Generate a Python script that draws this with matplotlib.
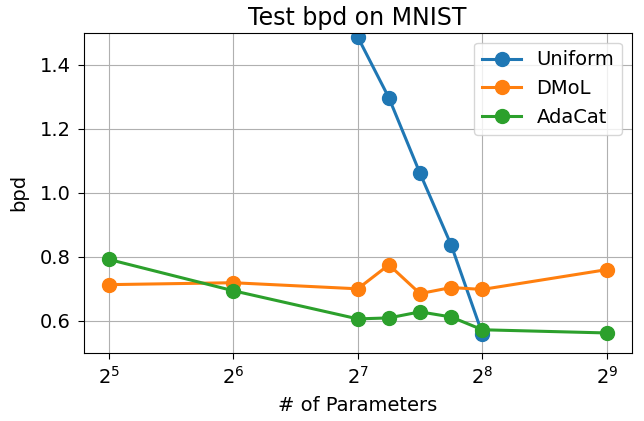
import matplotlib
matplotlib.use("Agg")
import matplotlib.pyplot as plt

# parameter counts (log2 spaced)
params_uniform = [2**7, 2**7.25, 2**7.5, 2**7.75, 2**8]
params_all = [2**5, 2**6, 2**7, 2**7.25, 2**7.5, 2**7.75, 2**8, 2**9]

bpd_uniform = [1.487, 1.297, 1.061, 0.837, 0.560]
bpd_dmol = [0.713, 0.719, 0.700, 0.775, 0.685, 0.704, 0.698, 0.760]
bpd_adacat = [0.792, 0.694, 0.606, 0.609, 0.628, 0.612, 0.572, 0.562]

fig, ax = plt.subplots(figsize=(6.44, 4.21), dpi=100)
fig.subplots_adjust(left=0.130, right=0.981, top=0.922, bottom=0.162)

ax.plot(params_uniform, bpd_uniform, "-o", lw=2.2, ms=10, label="Uniform")
ax.plot(params_all, bpd_dmol, "-o", lw=2.2, ms=10, label="DMoL")
ax.plot(params_all, bpd_adacat, "-o", lw=2.2, ms=10, label="AdaCat")

ax.set_xscale("log", base=2)
ax.set_ylim(0.5, 1.5)
ax.set_yticks([0.6, 0.8, 1.0, 1.2, 1.4])
ax.grid(True)
ax.tick_params(labelsize=14, length=4.5, pad=5)
ax.set_xlabel("# of Parameters", fontsize=14, labelpad=6)
ax.set_ylabel("bpd", fontsize=14, labelpad=8)
ax.set_title("Test bpd on MNIST", fontsize=17, pad=6)
ax.legend(fontsize=14, loc="upper right")

fig.savefig("out.png", dpi=100)
